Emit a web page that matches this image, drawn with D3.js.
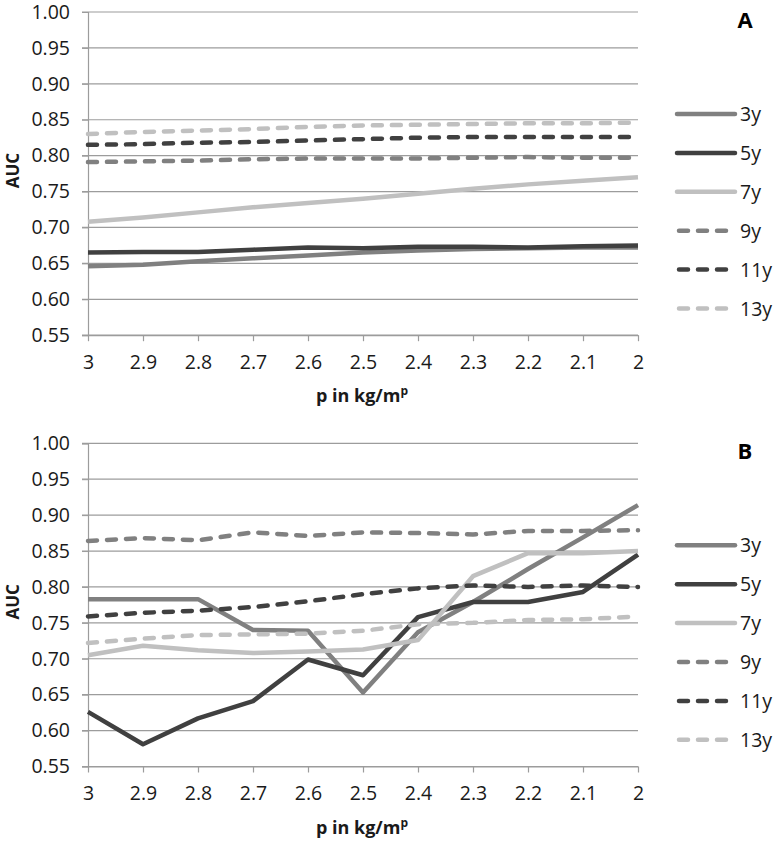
<!DOCTYPE html>
<html><head><meta charset="utf-8">
<script src="https://cdn.jsdelivr.net/npm/d3@7"></script>
<style>body{margin:0;background:#fff}</style>
</head><body>
<script>
const xCats = ["3","2.9","2.8","2.7","2.6","2.5","2.4","2.3","2.2","2.1","2"];
const yTicks = [0.55,0.60,0.65,0.70,0.75,0.80,0.85,0.90,0.95,1.00];
const seriesNames = ["3y","5y","7y","9y","11y","13y"];
const seriesColors = ["#808080","#404040","#c0c0c0","#808080","#404040","#c0c0c0"];
const seriesDashed = [false,false,false,true,true,true];

const panelA_3y  = [0.646,0.648,0.653,0.657,0.661,0.665,0.668,0.670,0.671,0.672,0.672];
const panelA_5y  = [0.665,0.666,0.666,0.669,0.672,0.671,0.673,0.673,0.672,0.674,0.675];
const panelA_7y  = [0.708,0.714,0.721,0.728,0.734,0.740,0.747,0.754,0.760,0.765,0.770];
const panelA_9y  = [0.791,0.792,0.793,0.795,0.796,0.796,0.796,0.797,0.798,0.797,0.797];
const panelA_11y = [0.815,0.816,0.818,0.819,0.821,0.823,0.825,0.826,0.826,0.826,0.826];
const panelA_13y = [0.830,0.833,0.835,0.837,0.840,0.842,0.843,0.844,0.845,0.845,0.846];

const panelB_3y  = [0.783,0.783,0.783,0.740,0.739,0.653,0.737,0.779,0.825,0.869,0.914];
const panelB_5y  = [0.626,0.581,0.617,0.641,0.699,0.677,0.758,0.779,0.779,0.793,0.845];
const panelB_7y  = [0.705,0.718,0.712,0.708,0.710,0.713,0.726,0.815,0.847,0.847,0.850];
const panelB_9y  = [0.864,0.868,0.865,0.876,0.871,0.876,0.875,0.873,0.878,0.878,0.879];
const panelB_11y = [0.759,0.764,0.767,0.772,0.780,0.790,0.798,0.802,0.800,0.802,0.800];
const panelB_13y = [0.722,0.728,0.733,0.734,0.735,0.739,0.748,0.750,0.754,0.755,0.759];

const panels = [
  {label:"A", top:12, series:[panelA_3y,panelA_5y,panelA_7y,panelA_9y,panelA_11y,panelA_13y]},
  {label:"B", top:443.3, series:[panelB_3y,panelB_5y,panelB_7y,panelB_9y,panelB_11y,panelB_13y]}
];

const W = 775, H = 842;
const svg = d3.select("body").append("svg").attr("width",W).attr("height",H)
  .style("font-family","'Open Sans', sans-serif");

const left = 88, right = 638, plotH = 323.2;
const x = d3.scalePoint().domain(xCats).range([left,right]);
const gridColor = "#9c9c9c";

panels.forEach(p => {
  const y = d3.scaleLinear().domain([0.55,1.00]).range([p.top+plotH, p.top]);
  const g = svg.append("g");

  // gridlines
  g.append("g").selectAll("line").data(yTicks).join("line")
    .attr("x1",left-6).attr("x2",right)
    .attr("y1",d=>y(d)).attr("y2",d=>y(d))
    .attr("stroke",gridColor).attr("stroke-width",1.2);

  // y axis
  const ya = g.append("g").attr("transform",`translate(${left},0)`)
    .call(d3.axisLeft(y).tickValues(yTicks).tickFormat(d3.format(".2f")).tickSize(6).tickPadding(12));
  ya.select(".domain").attr("stroke",gridColor).attr("stroke-width",1.2);
  ya.selectAll(".tick line").attr("stroke",gridColor);
  ya.selectAll("text").attr("font-size",19.5).attr("fill","#1a1a1a").style("font-family","'Open Sans', sans-serif");

  // x axis
  const xa = g.append("g").attr("transform",`translate(0,${p.top+plotH})`)
    .call(d3.axisBottom(x).tickSize(6).tickSizeOuter(0).tickPadding(14));
  xa.select(".domain").attr("stroke",gridColor).attr("stroke-width",1.2);
  xa.selectAll(".tick line").attr("stroke",gridColor).attr("stroke-width",1.2);
  xa.selectAll("text").attr("font-size",19.5).attr("fill","#1a1a1a").style("font-family","'Open Sans', sans-serif");

  // lines
  const line = d3.line().x((d,i)=>x(xCats[i])).y(d=>y(d));
  p.series.forEach((s,k) => {
    g.append("path").datum(s).attr("d",line)
      .attr("fill","none").attr("stroke",seriesColors[k]).attr("stroke-width",4.5)
      .attr("stroke-linejoin","round")
      .attr("stroke-linecap", seriesDashed[k] ? "round" : "butt")
      .attr("stroke-dasharray", seriesDashed[k] ? "9,10" : null);
  });

  // y title
  g.append("text").attr("transform",`translate(19,${p.top+plotH/2-3}) rotate(-90)`)
    .attr("text-anchor","middle").attr("font-size",17).attr("font-weight","bold")
    .attr("fill","#1a1a1a").text("AUC");

  // x title
  const xt = g.append("text").attr("x",362).attr("y",p.top+plotH+67)
    .attr("text-anchor","middle").attr("font-size",18).attr("font-weight","bold").attr("fill","#1a1a1a");
  xt.append("tspan").text("p in kg/m");
  xt.append("tspan").attr("font-size",12).attr("dy",-7).text("p");

  // panel label
  g.append("text").attr("x",745).attr("y",p.top+16).attr("text-anchor","middle")
    .attr("font-size",22).attr("font-weight","bold").attr("fill","#000").text(p.label);

  // legend
  const legTop = p.top + 102;
  seriesNames.forEach((n,k) => {
    const ly = legTop + k*38.9;
    g.append("line").attr("x1",seriesDashed[k]?679:677).attr("x2",seriesDashed[k]?729:735)
      .attr("y1",ly).attr("y2",ly)
      .attr("stroke",seriesColors[k]).attr("stroke-width",4.5)
      .attr("stroke-linecap","round")
      .attr("stroke-dasharray", seriesDashed[k] ? "9,10" : null);
    g.append("text").attr("x",740).attr("y",ly+7).attr("font-size",19.5)
      .attr("fill","#1a1a1a").text(n);
  });
});
</script>
</body></html>
